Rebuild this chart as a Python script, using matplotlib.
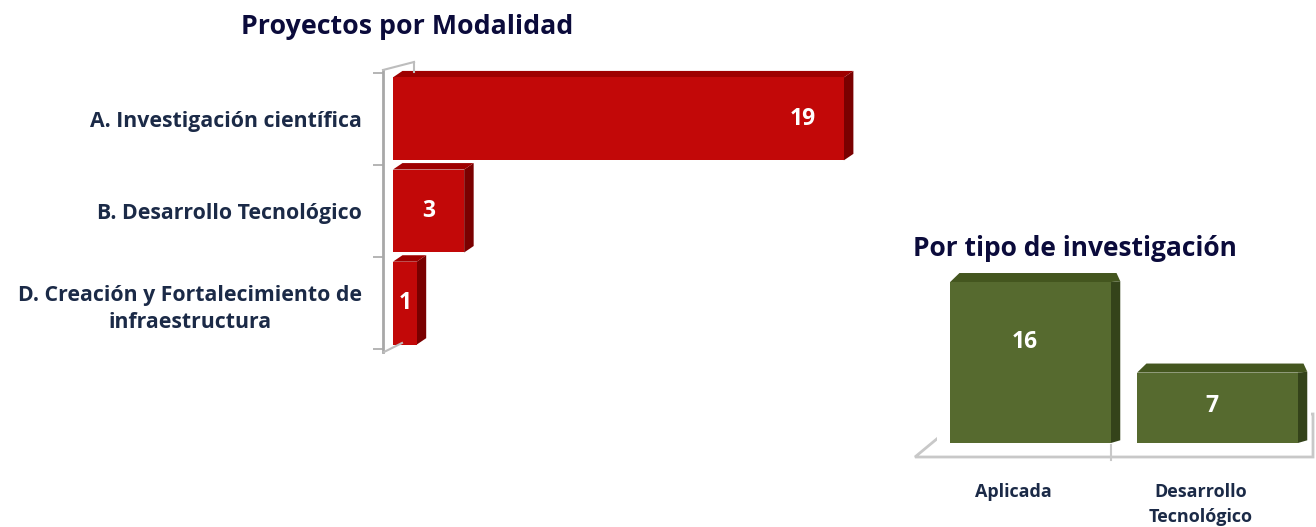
import matplotlib
matplotlib.use("Agg")
import matplotlib.pyplot as plt
from matplotlib.patches import Polygon
import numpy as np

# ---------------- data ----------------
mod_categories = ["A. Investigación científica",
                  "B. Desarrollo Tecnológico",
                  "D. Creación y Fortalecimiento de\ninfraestructura"]
mod_values = [19, 3, 1]
mod_title = "Proyectos por Modalidad"

tipo_categories = ["Aplicada", "Desarrollo\nTecnológico"]
tipo_values = [16, 7]
tipo_title = "Por tipo de investigación"

# ---------------- style ----------------
FONT = "Open Sans"
TITLE_C = "#0B0B3B"
LABEL_C = "#1B2A47"
RED_F, RED_S, RED_T = "#C20808", "#7A0000", "#9E0000"
GRN_F, GRN_S, GRN_T = "#566A2F", "#34431A", "#44561F"
GREY = "#A8A8A8"

W, H = 1316, 527
fig = plt.figure(figsize=(W / 100, H / 100), dpi=100)


def fx(px):
    return px / W


def fy(py):
    return 1 - py / H


# ---------------- left chart ----------------
axL = fig.add_axes([fx(383), fy(352), fx(870 - 383), fy(70) - fy(352)])
n = len(mod_values)
ypos = np.arange(n)
bh = 0.90
dxL, dyL = 0.40, 0.07
axL.barh(ypos, mod_values, height=bh, color=RED_F, zorder=3, left=0)
for y, v in zip(ypos, mod_values):
    top = y - bh / 2
    bot = y + bh / 2
    axL.add_patch(Polygon([(v, top), (v + dxL, top - dyL), (v + dxL, bot - dyL), (v, bot)],
                          closed=True, facecolor=RED_S, edgecolor="none", zorder=2))
    axL.add_patch(Polygon([(0, top), (dxL, top - dyL), (v + dxL, top - dyL), (v, top)],
                          closed=True, facecolor=RED_T, edgecolor="none", zorder=2))
    lx = max(v / 2.0, v - 1.75)
    axL.text(lx, y, str(v), ha="center", va="center", color="white",
             fontsize=16.5, fontweight="bold", family=FONT, zorder=5)

axL.set_xlim(-0.42, 20.1)
axL.set_ylim(n - 0.5 + 0.03, -0.5 - 0.03)
for s in ["top", "right", "bottom"]:
    axL.spines[s].set_visible(False)
axL.spines["left"].set_color(GREY)
axL.spines["left"].set_linewidth(2.0)
axL.set_xticks([])
axL.set_yticks(ypos)
axL.set_yticklabels(mod_categories, fontsize=15.3, fontweight="bold",
                    color=LABEL_C, family=FONT)
for t in axL.get_yticklabels():
    t.set_multialignment("center")
    t.set_linespacing(1.4)
axL.tick_params(axis="y", which="major", length=0, pad=15)
axL.set_yticks(np.arange(n + 1) - 0.5, minor=True)
axL.tick_params(axis="y", which="minor", length=7, width=1.2, color=GREY)
axL.set_title(mod_title, fontsize=19.3, fontweight="bold", color=TITLE_C,
              family=FONT, x=0.05, pad=26)

# wall corner decoration
for (x0, y0, x1, y1) in [(383, 70, 414, 62), (414, 62, 414, 72), (384, 352, 402, 343)]:
    fig.add_artist(plt.Line2D([fx(x0), fx(x1)], [fy(y0), fy(y1)],
                              transform=fig.transFigure, color="#BDBDBD", lw=1.5))

# ---------------- right chart ----------------
axR = fig.add_axes([fx(937), fy(443), fx(1311 - 937), fy(270) - fy(443)])
xpos = np.arange(len(tipo_values))
bw = 0.86
dxR, dyR = 0.05, 0.9
axR.bar(xpos, tipo_values, width=bw, color=GRN_F, zorder=3)
for x, v in zip(xpos, tipo_values):
    l = x - bw / 2
    r = x + bw / 2
    axR.add_patch(Polygon([(r, 0), (r + dxR, dyR * 0.3), (r + dxR, v + dyR * 0.1), (r, v)],
                          closed=True, facecolor=GRN_S, edgecolor="none", zorder=2))
    axR.add_patch(Polygon([(l, v), (l + dxR, v + dyR), (r + dxR * 0.6, v + dyR), (r + dxR, v + dyR * 0.1), (r, v)],
                          closed=True, facecolor=GRN_T, edgecolor="none", zorder=2))
    axR.text(x - 0.03, v * 0.5 + max(v - 6, 0) * 0.2, str(v), ha="center", va="center",
             color="white", fontsize=16.5, fontweight="bold", family=FONT, zorder=5)

axR.set_xlim(-0.5, 1.5)
axR.set_ylim(0, 17.2)
for s in axR.spines.values():
    s.set_visible(False)
axR.set_yticks([])
axR.set_xticks(xpos - 0.09)
axR.set_xticklabels(tipo_categories, fontsize=13, fontweight="bold",
                    color=LABEL_C, family=FONT)
for t in axR.get_xticklabels():
    t.set_linespacing(1.45)
axR.tick_params(axis="x", length=0, pad=29)
axR.set_title(tipo_title, fontsize=19, fontweight="bold", color=TITLE_C,
              family=FONT, x=0.37, pad=10)

# floor of the 3D chart (decoration)
floor = Polygon([(fx(915), fy(457)), (fx(950), fy(428)), (fx(1313), fy(414)),
                 (fx(1313), fy(457))], closed=True, transform=fig.transFigure,
                facecolor="none", edgecolor="#C8C8C8", linewidth=2.0, zorder=0)
fig.add_artist(floor)
fig.add_artist(plt.Line2D([fx(1111), fx(1111)], [fy(445), fy(460)],
                          transform=fig.transFigure, color="#C8C8C8", lw=1.5))

fig.savefig("out.png", dpi=100, facecolor="white")
